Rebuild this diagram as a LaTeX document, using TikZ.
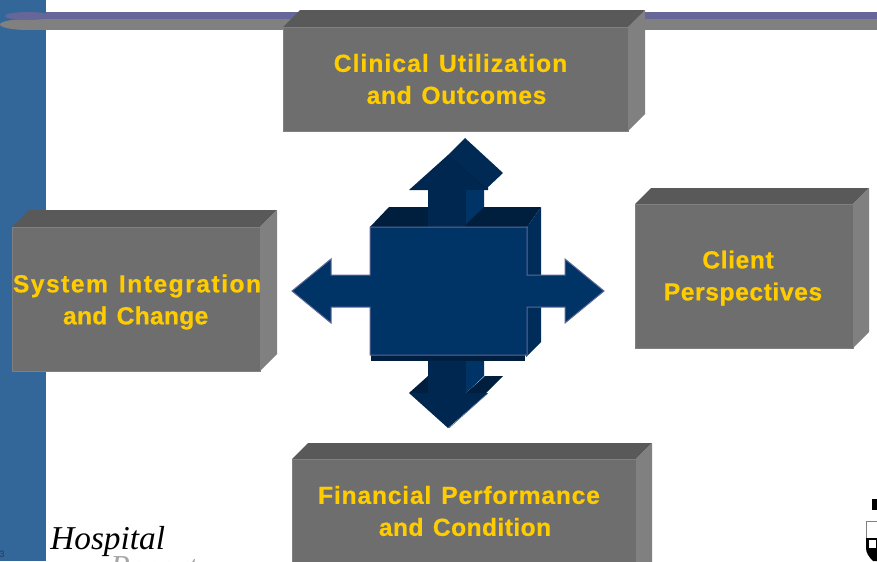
\documentclass[tikz,border=0pt]{standalone}
\usepackage{fontspec}
\setmainfont{Liberation Sans}
\newfontfamily\fontA[LetterSpace=4.2,WordSpace=1.3,FakeBold=0.5]{Liberation Sans Bold}
\newfontfamily\fontB[LetterSpace=6,WordSpace=1.3,FakeBold=0.5]{Liberation Sans Bold}
\newfontfamily\fontC[LetterSpace=2.3,WordSpace=1.3,FakeBold=0.5]{Liberation Sans Bold}
\newfontfamily\fontD[LetterSpace=3.2,WordSpace=1.3,FakeBold=0.5]{Liberation Sans Bold}
\newfontfamily\fontE[LetterSpace=2.5,WordSpace=1.3,FakeBold=0.5]{Liberation Sans Bold}
\newfontfamily\fontF[LetterSpace=1,WordSpace=1.3,FakeBold=0.5]{Liberation Sans Bold}
\newfontfamily\fontG[LetterSpace=1.6,WordSpace=1.3,FakeBold=0.5]{Liberation Sans Bold}
\newfontfamily\logofont{Liberation Serif}
\definecolor{barblue}{HTML}{336699}
\definecolor{barpurple}{HTML}{666699}
\definecolor{bargray}{HTML}{808080}
\definecolor{boxfront}{HTML}{6E6E6E}
\definecolor{boxtop}{HTML}{595959}
\definecolor{boxside}{HTML}{808080}
\definecolor{navy}{HTML}{003366}
\definecolor{navyside}{HTML}{002C59}
\definecolor{navytop}{HTML}{001F3F}
\definecolor{navyshaft}{HTML}{00274F}
\definecolor{navyback}{HTML}{002A54}
\definecolor{navyedge}{HTML}{5F6796}
\definecolor{textyellow}{HTML}{FFCC00}
\tikzset{
  boxlabel/.style={text=textyellow,align=center,inner sep=0pt},
  frontface/.style={fill=boxfront,draw=boxside,line width=0.5pt},
  topface/.style={fill=boxtop},
  sideface/.style={fill=boxside},
  navyfront/.style={fill=navy,draw=navyedge,line width=0.75pt,line join=miter},
}
\newcommand{\labelsize}{\fontsize{18.5}{24}\selectfont}
\newcommand{\bevelbox}[6]{% x1 y1 x2 y2 depth name
  \fill[topface] (#1,#2) -- (#1+#5,#2-#5) -- (#3+#5,#2-#5) -- (#3,#2) -- cycle;
  \fill[sideface] (#3,#2) -- (#3+#5,#2-#5) -- (#3+#5,#4-#5) -- (#3,#4) -- cycle;
  \path[frontface] (#1,#2) rectangle (#3,#4);
}
\begin{document}
\begin{tikzpicture}[x=0.75pt,y=-0.75pt]
\useasboundingbox (0,0) rectangle (877,561);
\clip (0,0) rectangle (877,561);
% slide decoration
\fill[barblue] (0,0) rectangle (46,561);
\fill[bargray] (46,19) rectangle (877,30);
\fill[bargray] (28,24.5) ellipse [x radius=28,y radius=5.5];
\fill[bargray] (28,19) rectangle (46,30);
\fill[barpurple] (46,12) rectangle (877,19);
\fill[barpurple] (28,16) ellipse [x radius=23,y radius=4];
% grey boxes
\bevelbox{283}{27}{628}{131}{17}{clinical}
\bevelbox{12}{227}{260}{371}{17}{system}
\bevelbox{635}{204}{853}{348}{16}{client}
\bevelbox{292}{459}{636}{600}{16}{financial}
% up arrow
\fill[navyback] (448,155) -- (465,138) -- (503,173) -- (485,190) -- cycle;
\fill[navyshaft] (409,190) -- (488,190) -- (488,187) -- (484,187) -- (448,155) -- cycle;
\draw[navytop!60!navyback,line width=0.4pt] (448,155) -- (485,188);
% centre block back faces
\fill[navytop] (370,227) -- (389,207) -- (541,207) -- (527,227) -- cycle;
\fill[navyside] (527,227) -- (541,207) -- (541,342) -- (526,357) -- cycle;
\fill[navytop] (371,355) rectangle (525,361);
% up arrow shaft above the block
\fill[navy] (466,190) -- (484,190) -- (484,207) -- (466,224) -- cycle;
\fill[navyshaft] (428,190) rectangle (466,227);
% down arrow
\fill[navy] (466,361) -- (484,361) -- (484,376) -- (466,393) -- cycle;
\fill[navytop] (409,393) -- (428,376) -- (428,393) -- cycle;
\fill[navytop] (466,393) -- (485,376) -- (503,376) -- (486,393) -- cycle;
\fill[navyshaft] (428,361) rectangle (466,395);
\fill[navyshaft] (409,393) -- (488,393) -- (448,428) -- cycle;
\draw[navy!70!white,line width=0.5pt] (449,428) -- (488,393);
% centre block with horizontal arrows
\path[navyfront] (370,227) -- (527,227) -- (527,275) -- (565,275) -- (565,259) -- (604,291)
  -- (565,323) -- (565,307) -- (527,307) -- (527,355) -- (370,355) -- (370,307) -- (331,307)
  -- (331,323) -- (292,291) -- (331,259) -- (331,275) -- (370,275) -- cycle;
% labels
\node[boxlabel,font=\fontA\labelsize] (clinicalLabel) at (450.5,79) {Clinical Utilization\\\hspace*{9pt}{\fontE and Outcomes}};
\node[boxlabel,font=\fontB\labelsize] (systemLabel) at (137,302) {System Integration\\\hspace*{-2pt}{\fontF and Change}};
\node[boxlabel,font=\fontC\labelsize] (clientLabel) at (743,278) {\hspace*{-7.5pt}Client\\Perspectives};
\node[boxlabel,font=\fontD\labelsize] (financialLabel) at (459,511) {Financial Performance\\\hspace*{9pt}{\fontG and Condition}};
% footer
\node[anchor=base west,inner sep=0pt,text=gray!70,font=\logofont\itshape\fontsize{24}{24}\selectfont] (report) at (110,577) {Report};
\node[anchor=base west,inner sep=0pt,text=black,font=\logofont\itshape\fontsize{25}{25}\selectfont] (hospital) at (50,549) {Hospital};
\node[anchor=base west,inner sep=0pt,text=barblue!60!black,font=\fontsize{7}{7}\selectfont] (pagenum) at (-1,557) {3};
% crest
\fill[black] (872,499) rectangle (877,510);
\draw[gray,line width=0.75pt] (866.5,521) -- (877,521);
\draw[gray,line width=0.75pt] (866.5,521) -- (866.5,540);
\fill[black] (866,538) -- (877,538) -- (877,561) -- (873,561) .. controls (869,557) and (866,553) .. (866,548) -- cycle;
\fill[white] (869,540) rectangle (876,548);
\end{tikzpicture}
\end{document}
